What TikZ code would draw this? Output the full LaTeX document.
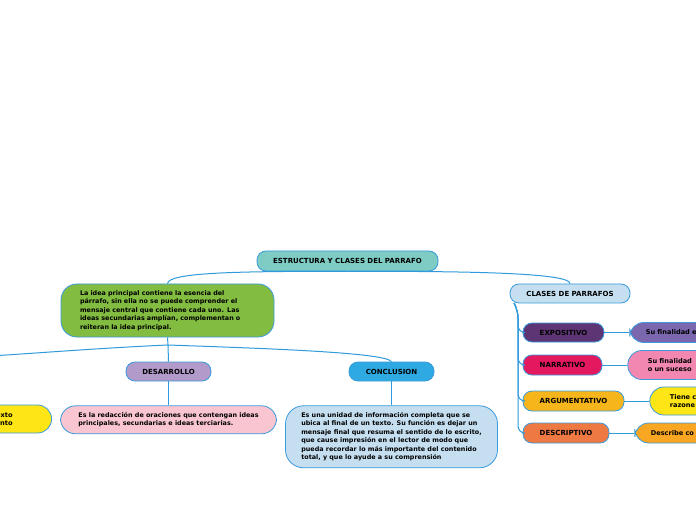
\documentclass[tikz,border=0pt]{standalone}
\usepackage{fontspec}
\setmainfont{DejaVu Sans}
\usetikzlibrary{positioning}

\definecolor{edgeblue}{HTML}{3A9BDC}
\definecolor{linkblue}{HTML}{2F9BDC}
\definecolor{titleteal}{HTML}{7ECCC4}
\definecolor{ideagreen}{HTML}{82BC41}
\definecolor{lavender}{HTML}{B29BCB}
\definecolor{conclblue}{HTML}{2FA9E1}
\definecolor{palepink}{HTML}{F9C5D0}
\definecolor{paleblue}{HTML}{C5DFF1}
\definecolor{darkpurple}{HTML}{5E3574}
\definecolor{midpurple}{HTML}{7B67AE}
\definecolor{crimson}{HTML}{E3185F}
\definecolor{rosepink}{HTML}{F287B1}
\definecolor{amber}{HTML}{F7B51C}
\definecolor{brightyellow}{HTML}{FEE516}
\definecolor{coral}{HTML}{EF7943}
\definecolor{orangebox}{HTML}{F9A722}

\begin{document}
\begin{tikzpicture}[
    x=1pt, y=1pt,
    font=\fontsize{7}{8.5}\selectfont\bfseries,
    topic/.style={rectangle, rounded corners=9pt, draw=edgeblue, line width=0.8pt, align=center, minimum height=20pt, inner sep=2pt},
    note/.style={rectangle, rounded corners=15pt, draw=edgeblue, line width=0.8pt, align=left, inner sep=2pt, font=\fontsize{6.4}{8.5}\selectfont\bfseries},
    clipped/.style={rectangle, rounded corners=14pt, draw=edgeblue, line width=0.8pt, align=left, text width=90pt, inner xsep=16pt, font=\fontsize{6.6}{8.5}\selectfont\bfseries},
    link/.style={draw=linkblue, line width=1pt}
]
    \useasboundingbox (0,0) rectangle (696,520);
    \clip (0,0) rectangle (696,520);
    \fill[white] (0,0) rectangle (696,520);

    % Title
    \node (title) [topic, fill=titleteal, minimum width=181pt] at (347.5,259) {ESTRUCTURA Y CLASES DEL PARRAFO};

    % Main idea
    \node (idea) [note, fill=ideagreen, text width=175pt, inner xsep=19pt, minimum height=53pt, rounded corners=16pt] at (167.5,209.5)
        {La idea principal contiene la esencia del\\ párrafo, sin ella no se puede comprender el\\ mensaje central que contiene cada uno. Las\\ ideas secundarias amplían, complementan o\\ reiteran la idea principal.};

    % Parts
    \node (desarrollo) [topic, fill=lavender, minimum width=85pt, minimum height=19pt] at (168.5,148.5) {DESARROLLO};
    \node (conclusion) [topic, fill=conclblue, minimum width=85pt, minimum height=19pt] at (391.5,148.5) {CONCLUSION};

    \node (desarrollo_txt) [note, fill=palepink, minimum width=216pt, minimum height=28pt, below=24pt of desarrollo]
        {Es la redacción de oraciones que contengan ideas\\ principales, secundarias e ideas terciarias.};
    \node (conclusion_txt) [note, fill=paleblue, minimum width=212pt, minimum height=62pt, rounded corners=18pt, below=24pt of conclusion]
        {Es una unidad de información completa que se\\ ubica al final de un texto. Su función es dejar un\\ mensaje final que resuma el sentido de lo escrito,\\ que cause impresión en el lector de modo que\\ pueda recordar lo más importante del contenido\\ total, y que lo ayude a su comprensión};

    % Left box (cut by the border)
    \node (intro_txt) [clipped, fill=brightyellow, anchor=east, minimum height=28pt, text width=100pt, inner xsep=39pt, align=right] at (52,101)
        {exto\\ nto\hspace*{4pt}};
    \coordinate (offleft) at (-10,164);

    % Classes
    \node (clases) [topic, fill=paleblue, minimum width=120pt, minimum height=19pt] at (570,226.5) {CLASES DE PARRAFOS};
    \node (expo) [topic, fill=darkpurple, minimum width=81pt, minimum height=19pt] at (563.5,187.5) {EXPOSITIVO};
    \node (narr) [topic, fill=crimson, minimum width=79pt] at (562.5,155) {NARRATIVO};
    \node (argu) [topic, fill=amber, minimum width=101pt] at (573.5,119) {ARGUMENTATIVO};
    \node (desc) [topic, fill=coral, minimum width=86pt] at (566,87) {DESCRIPTIVO};

    \node (expo_txt) [clipped, fill=midpurple, minimum height=20pt, right=25pt of expo] {Su finalidad e};
    \node (narr_txt) [clipped, fill=rosepink, minimum height=29pt, inner xsep=20pt, right=25pt of narr] {Su finalidad\\ o un suceso};
    \node (argu_txt) [clipped, fill=brightyellow, minimum height=28pt, inner xsep=20pt, right=25pt of argu] {Tiene c\\ razone};
    \node (desc_txt) [clipped, fill=orangebox, minimum height=20pt, right=25pt of desc] {Describe co};

    % Links
    \coordinate (split) at (168,175);
    \coordinate (trunk) at (514,217);

    \draw [link] (title.south) .. controls (230,249) and (168,247) .. (idea.north);
    \draw [link] (title.south) .. controls (470,249) and (570,247) .. (clases.north);

    \draw [link] (idea.south) -- (split);
    \draw [link] (split) -- (desarrollo.north);
    \draw [link] (split) .. controls (250,172) and (385,168) .. (conclusion.north);
    \draw [link] (split) .. controls (100,172) and (40,167) .. (offleft);
    \draw [link] (desarrollo.south) -- (desarrollo_txt.north);
    \draw [link] (conclusion.south) -- (conclusion_txt.north);

    \foreach \n in {expo,narr,argu,desc} {
        \draw [link, rounded corners=7pt] (trunk) -- ++(4,-8) |- (\n.west);
        \draw [link] (\n.east) -- (\n_txt.west);
    }
\end{tikzpicture}
\end{document}
